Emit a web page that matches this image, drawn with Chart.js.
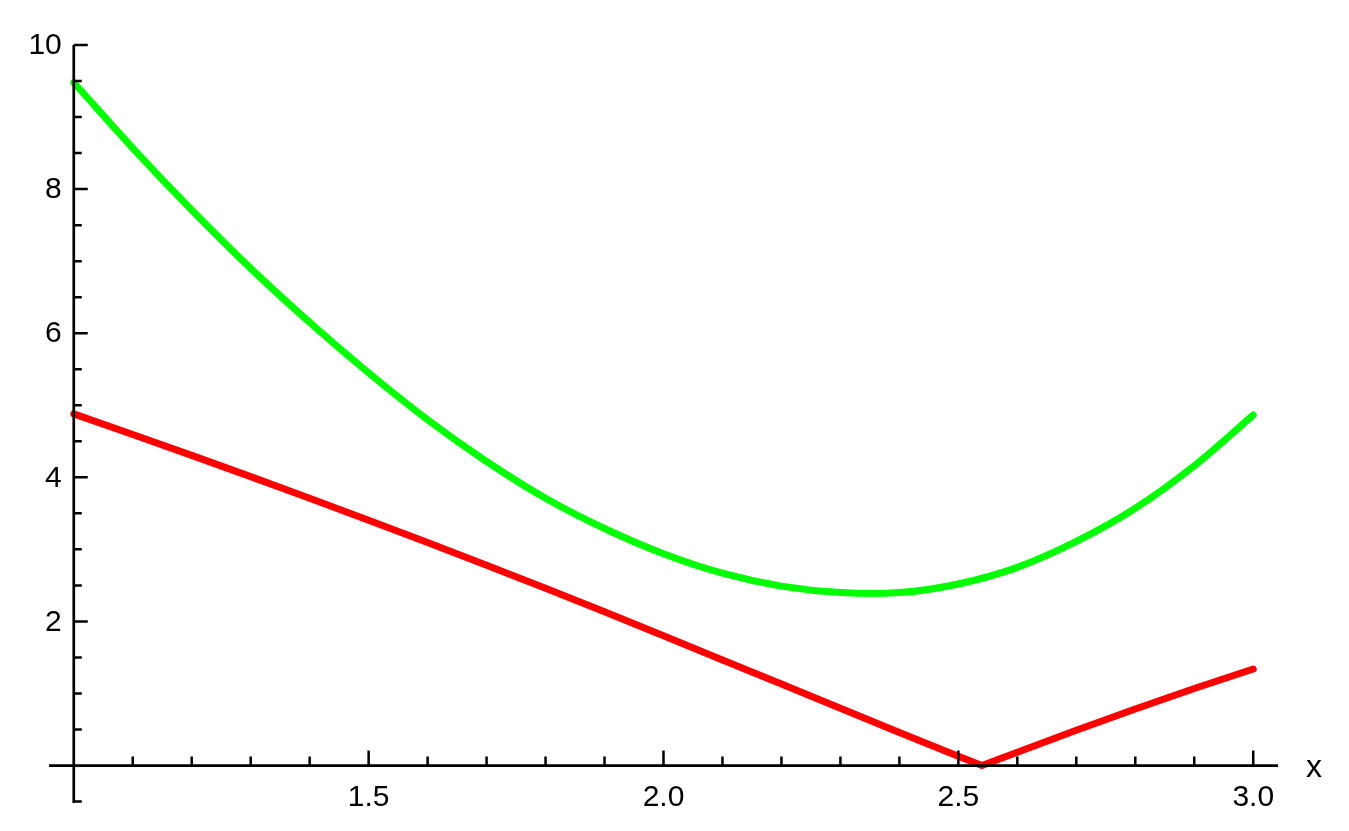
<!DOCTYPE html>
<html>
<head>
<meta charset="utf-8">
<script src="https://cdn.jsdelivr.net/npm/chart.js@4/dist/chart.umd.min.js"></script>
<style>
  html, body { margin: 0; padding: 0; background: #ffffff; }
  canvas { display: block; }
</style>
</head>
<body>
<canvas id="c" width="1349" height="831"></canvas>
<script>
// ---- data ----
const xGreen      = [1.0, 1.1, 1.2, 1.3, 1.4, 1.5, 1.6, 1.7, 1.8, 1.9, 2.0, 2.1, 2.2, 2.3, 2.4, 2.5, 2.6, 2.7, 2.8, 2.9, 3.0];
const greenValues = [9.48, 8.57, 7.71, 6.90, 6.15, 5.45, 4.80, 4.22, 3.71, 3.29, 2.94, 2.67, 2.49, 2.40, 2.40, 2.52, 2.75, 3.11, 3.57, 4.16, 4.865];
const xRed        = [1.0, 1.1, 1.2, 1.3, 1.4, 1.5, 1.6, 1.7, 1.8, 1.9, 2.0, 2.1, 2.2, 2.3, 2.4, 2.5, 2.54, 2.6, 2.7, 2.8, 2.9, 3.0];
const redValues   = [4.88, 4.595, 4.305, 4.01, 3.71, 3.405, 3.095, 2.78, 2.46, 2.135, 1.80, 1.465, 1.13, 0.795, 0.46, 0.13, 0.00, 0.185, 0.49, 0.785, 1.07, 1.34];

const xTickValues = [1.5, 2.0, 2.5, 3.0];
const xTickLabels = ['1.5', '2.0', '2.5', '3.0'];
const yTickValues = [2, 4, 6, 8, 10];
const yTickLabels = ['2', '4', '6', '8', '10'];
const xMinorTicks = [1.1, 1.2, 1.3, 1.4, 1.6, 1.7, 1.8, 1.9, 2.1, 2.2, 2.3, 2.4, 2.6, 2.7, 2.8, 2.9];
const yMinorTicks = [-0.5, 0.5, 1, 1.5, 2.5, 3, 3.5, 4.5, 5, 5.5, 6.5, 7, 7.5, 8.5, 9, 9.5];
const xAxisLabel = 'x';

const FONT = '30px "Liberation Sans", Arial, sans-serif';
const LABEL_FONT = '32px "Liberation Sans", Arial, sans-serif';

const mathAxes = {
  id: 'mathAxes',
  afterDatasetsDraw(chart) {
    const ctx = chart.ctx;
    const xs = chart.scales.x, ys = chart.scales.y;
    const area = chart.chartArea;
    const x0 = xs.getPixelForValue(1);
    const y0 = ys.getPixelForValue(0);
    ctx.save();
    ctx.strokeStyle = '#000';
    ctx.lineWidth = 2.7;
    ctx.lineCap = 'butt';
    ctx.beginPath();
    ctx.moveTo(area.left, y0); ctx.lineTo(area.right, y0);
    ctx.moveTo(x0, area.top); ctx.lineTo(x0, area.bottom);
    ctx.stroke();

    ctx.lineWidth = 2.5;
    ctx.beginPath();
    xTickValues.forEach(v => { const p = xs.getPixelForValue(v); ctx.moveTo(p, y0); ctx.lineTo(p, y0 - 15); });
    xMinorTicks.forEach(v => { const p = xs.getPixelForValue(v); ctx.moveTo(p, y0); ctx.lineTo(p, y0 - 9); });
    yTickValues.forEach(v => { const p = ys.getPixelForValue(v); ctx.moveTo(x0, p); ctx.lineTo(x0 + 14, p); });
    yMinorTicks.forEach(v => { const p = ys.getPixelForValue(v); ctx.moveTo(x0, p); ctx.lineTo(x0 + 8, p); });
    ctx.stroke();

    ctx.fillStyle = '#000';
    ctx.font = FONT;
    ctx.textAlign = 'center';
    ctx.textBaseline = 'alphabetic';
    xTickValues.forEach((v, i) => {
      ctx.fillText(xTickLabels[i], xs.getPixelForValue(v), y0 + 40);
    });
    ctx.textAlign = 'right';
    ctx.textBaseline = 'middle';
    yTickValues.forEach((v, i) => {
      ctx.fillText(yTickLabels[i], x0 - 12, ys.getPixelForValue(v) + 1);
    });
    ctx.font = LABEL_FONT;
    ctx.textAlign = 'left';
    ctx.textBaseline = 'alphabetic';
    ctx.fillText(xAxisLabel, area.right + 28, y0 + 11);
    ctx.restore();
  }
};

const toPoints = (xs, ys) => xs.map((x, i) => ({ x: x, y: ys[i] }));

new Chart(document.getElementById('c'), {
  type: 'line',
  data: {
    datasets: [
      {
        label: 'green',
        data: toPoints(xGreen, greenValues),
        borderColor: '#00ff00',
        borderWidth: 7,
        borderCapStyle: 'round',
        borderJoinStyle: 'round',
        tension: 0.4,
        pointRadius: 0,
        fill: false
      },
      {
        label: 'red',
        data: toPoints(xRed, redValues),
        borderColor: '#ff0000',
        borderWidth: 7,
        borderCapStyle: 'round',
        borderJoinStyle: 'miter',
        tension: 0,
        pointRadius: 0,
        fill: false
      }
    ]
  },
  options: {
    responsive: false,
    animation: false,
    layout: { padding: { left: 49, right: 71, top: 45, bottom: 28 } },
    plugins: { legend: { display: false }, tooltip: { enabled: false } },
    scales: {
      x: { type: 'linear', display: false, min: 0.958, max: 3.042 },
      y: { type: 'linear', display: false, min: -0.52, max: 10 }
    }
  },
  plugins: [mathAxes]
});
</script>
</body>
</html>
